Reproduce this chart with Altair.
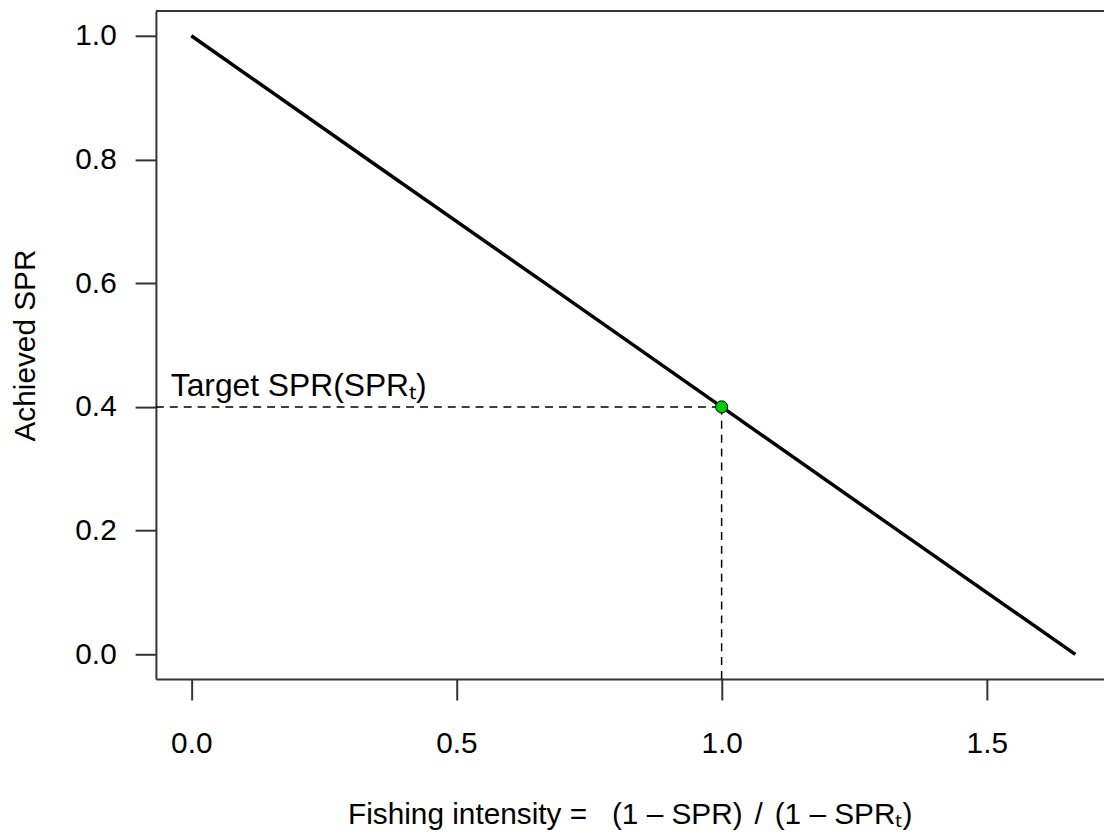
import altair as alt
import pandas as pd

# ---- data ----
spr_values = [1.0, 0.8, 0.6, 0.4, 0.2, 0.0]
intensity = [0.0, 0.333, 0.667, 1.0, 1.333, 1.667]
target_spr = [0.4]
target_intensity = [1.0]
x_ticks = [0.0, 0.5, 1.0, 1.5]
y_ticks = [0.0, 0.2, 0.4, 0.6, 0.8, 1.0]
annotation = ["Target SPR(SPRₜ)"]
x_title = "Fishing intensity =\u00a0\u00a0\u00a0(1 – SPR)\u2009\u2009/\u2009\u2009(1 – SPRₜ)"
y_title = "Achieved SPR"

# ---- layout ----
W, H = 955, 673
XMIN, XMAX = -0.0667, -0.0667 + 955 / 534.2
YMIN, YMAX = -0.04, 1.04
FONT = "Liberation Sans"
FS = 30

curve = pd.DataFrame({"x": intensity, "y": spr_values})
target = pd.DataFrame({"x": target_intensity, "y": target_spr,
                       "x0": [XMIN], "y0": [YMIN]})
ann = pd.DataFrame({"x": target_intensity, "y": target_spr, "label": annotation})

xscale = alt.Scale(domain=[XMIN, XMAX], nice=False, zero=False)
yscale = alt.Scale(domain=[YMIN, YMAX], nice=False, zero=False)

xaxis = alt.Axis(
    values=x_ticks, format=".1f", title=x_title, grid=False,
    tickSize=21, tickWidth=2, tickColor="#333333",
    domain=True, domainColor="#333333", domainWidth=2,
    labelFont=FONT, labelFontSize=FS, labelColor="black", labelPadding=29,
    labelFlush=False, labelOverlap=False,
    titleFont=FONT, titleFontSize=FS, titleFontWeight="normal", titleColor="black",
    titleX=193, titleY=145, titleAlign="left", titleAnchor="start",
    titleBaseline="alphabetic",
)
yaxis = alt.Axis(
    values=y_ticks, format=".1f", title=y_title, grid=False,
    tickSize=21, tickWidth=2, tickColor="#333333",
    domain=True, domainColor="#333333", domainWidth=2,
    labelFont=FONT, labelFontSize=FS, labelColor="black", labelPadding=19,
    labelFlush=False, labelOverlap=False,
    titleFont=FONT, titleFontSize=FS, titleFontWeight="normal", titleColor="black",
    titleX=-122, titleY=H / 2, titleAngle=270, titleAlign="center",
    titleBaseline="alphabetic",
)

line = alt.Chart(curve).mark_line(color="black", strokeWidth=3.5).encode(
    x=alt.X("x:Q", scale=xscale, axis=xaxis),
    y=alt.Y("y:Q", scale=yscale, axis=yaxis),
)

hrule = alt.Chart(target).mark_rule(color="black", strokeWidth=1.5, strokeDash=[8, 6]).encode(
    x=alt.X("x0:Q"),
    x2=alt.X2("x:Q"),
    y=alt.Y("y:Q"),
)

vrule = alt.Chart(target).mark_rule(color="black", strokeWidth=1.5, strokeDash=[8, 6]).encode(
    x=alt.X("x:Q"),
    y=alt.Y("y:Q"),
    y2=alt.Y2("y0:Q"),
)

point = alt.Chart(target).mark_point(
    shape="circle", filled=True, fill="#00CC00", stroke="black", strokeWidth=1,
    size=150, opacity=1,
).encode(x="x:Q", y="y:Q")

text = alt.Chart(ann).mark_text(
    align="left", baseline="alphabetic", font=FONT, fontSize=32, color="black", dy=-11,
).encode(x=alt.value(15), y="y:Q", text="label:N")

top_border = alt.Chart(target).mark_rule(color="#333333", strokeWidth=2).encode(
    x=alt.value(0), x2=alt.value(W), y=alt.value(0),
)

chart = alt.layer(line, hrule, vrule, point, text, top_border).properties(
    width=W, height=H,
    autosize=alt.AutoSizeParams(type="none"),
    padding={"left": 149, "top": 0, "right": 0, "bottom": 154},
    background="white",
).configure_view(stroke=None)

chart.save("out.html", embed_options={"renderer": "svg", "actions": False})
